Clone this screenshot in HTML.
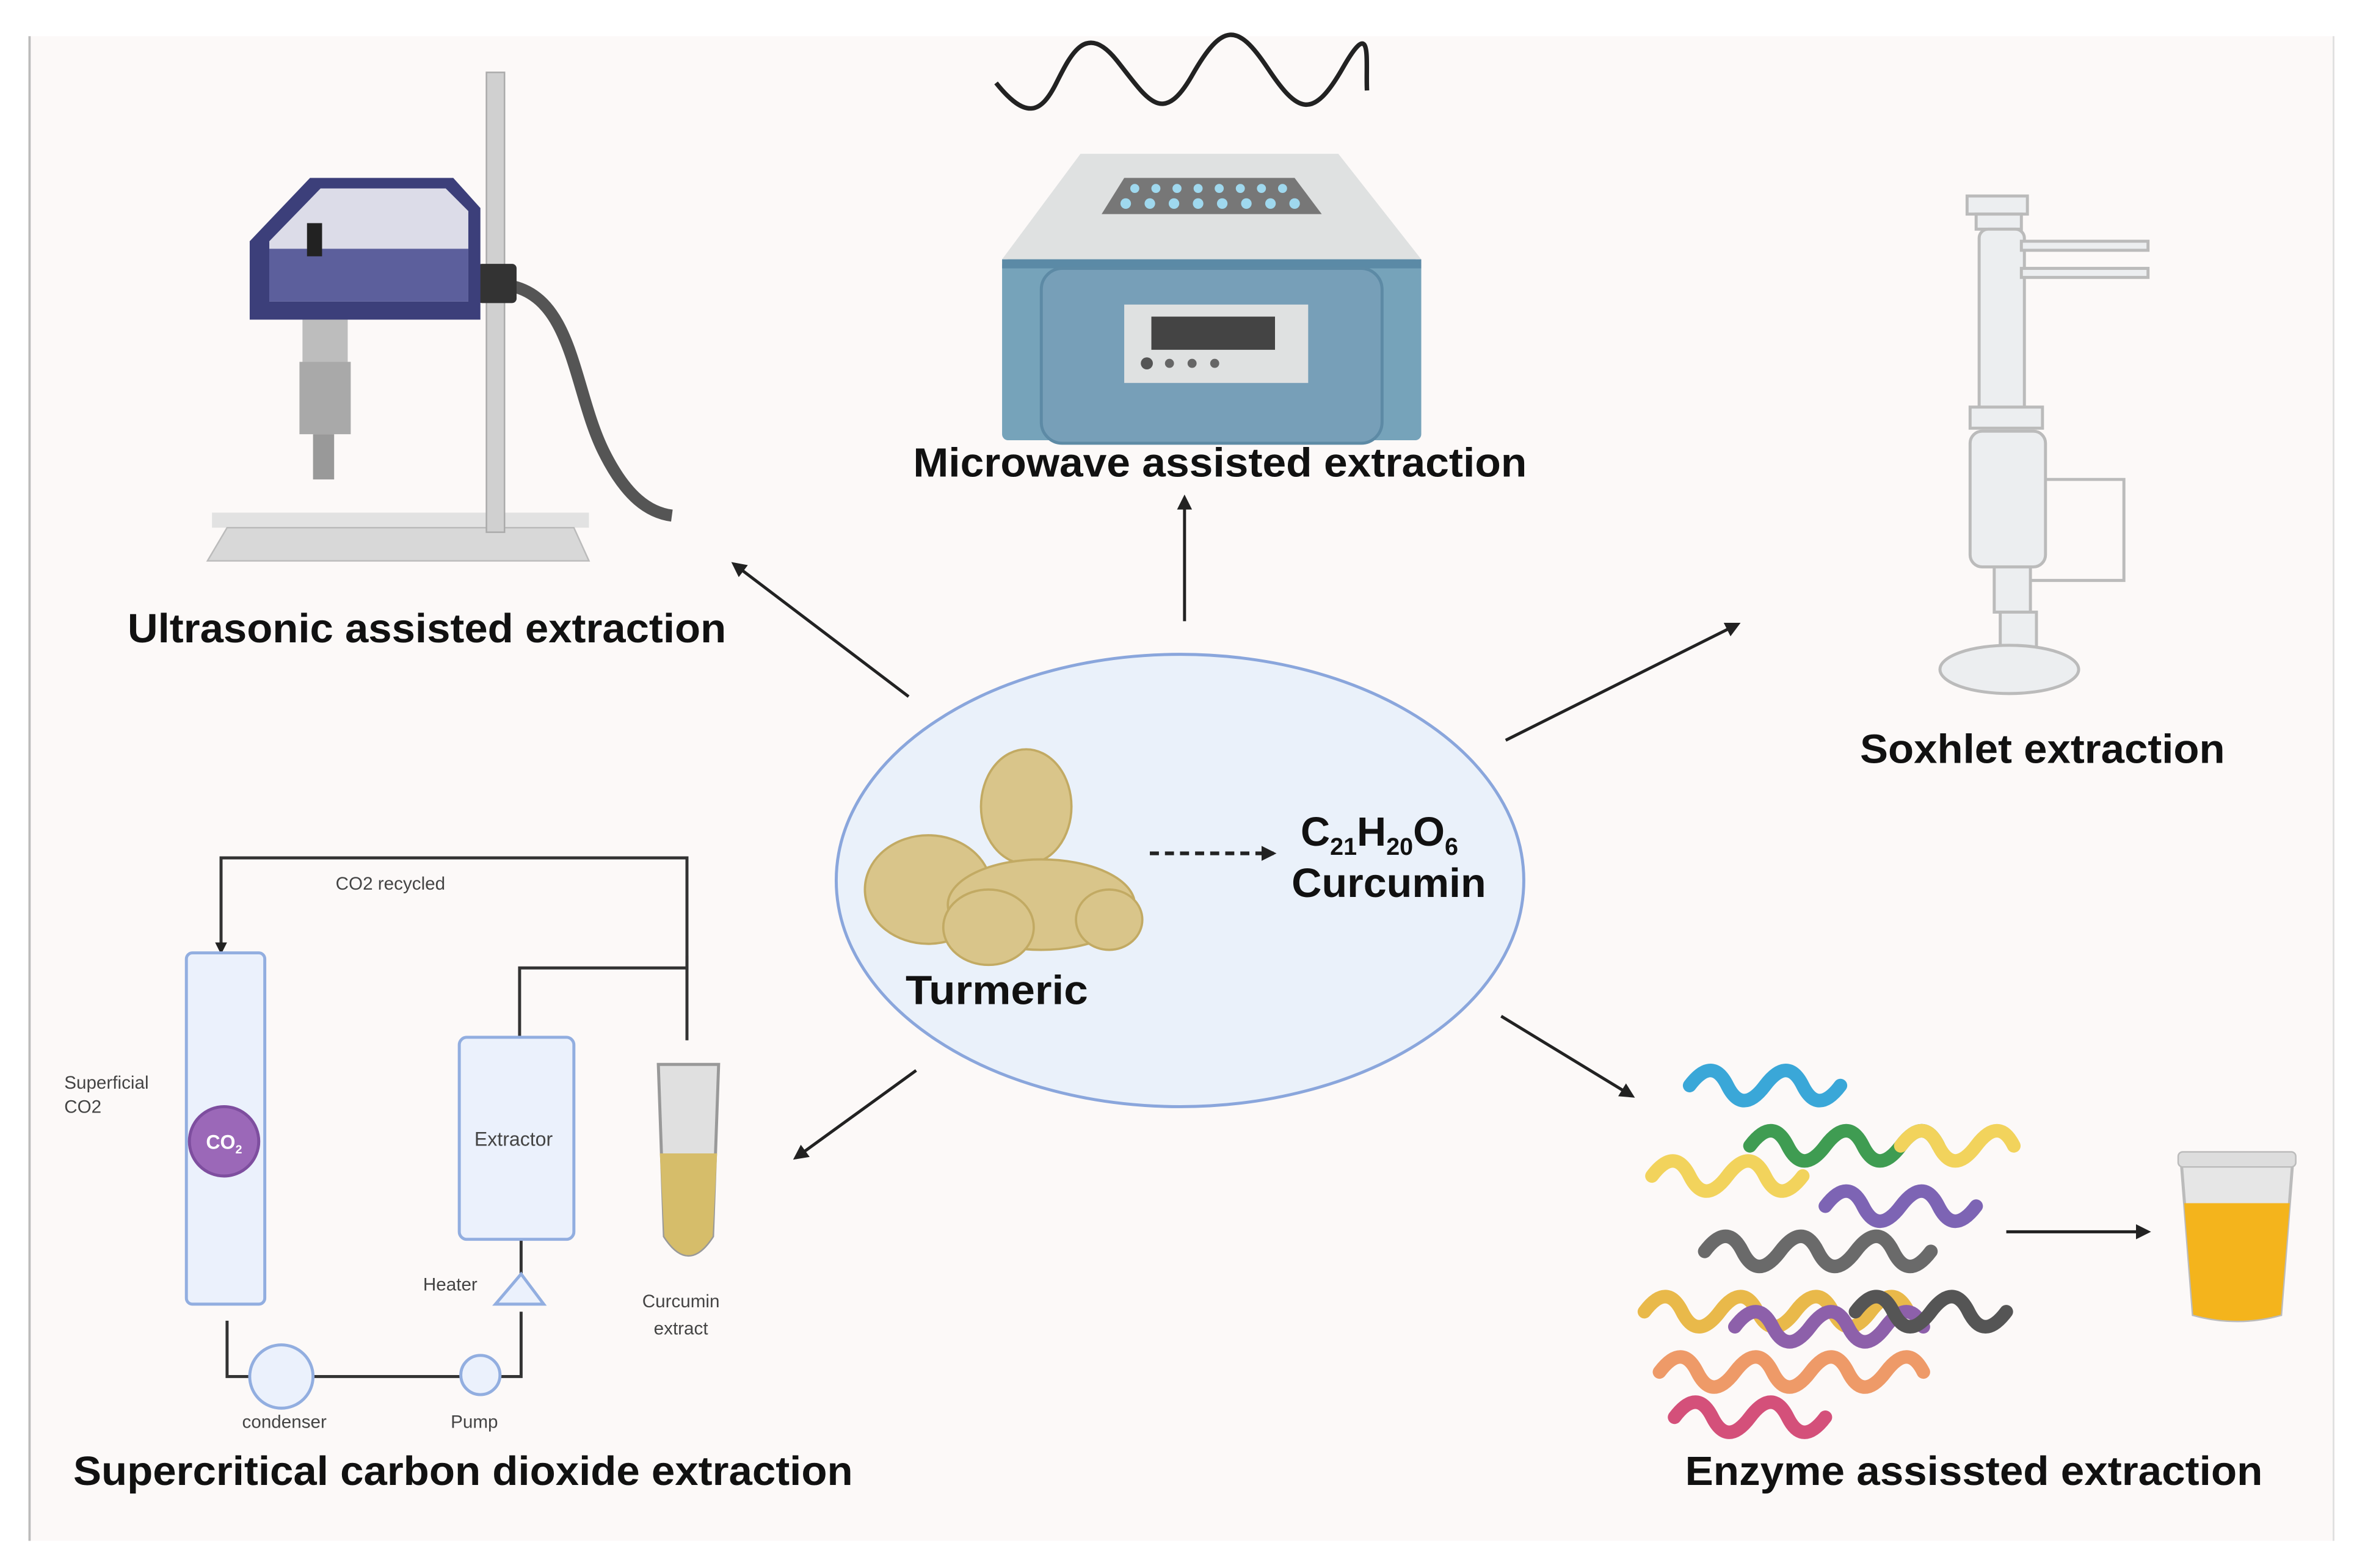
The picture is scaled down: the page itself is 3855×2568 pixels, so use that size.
<!DOCTYPE html>
<html><head><meta charset="utf-8"><style>
html,body{margin:0;padding:0;background:#fff;}
svg{display:block;}
text{font-family:"Liberation Sans",sans-serif;}
.t{font-weight:bold;font-size:27px;fill:#111;}
</style></head><body>
<svg width="3855" height="2568" viewBox="0 0 1560 1040" xmlns="http://www.w3.org/2000/svg">
<defs>
<marker id="ah" markerWidth="10" markerHeight="10" refX="8" refY="5" orient="auto" markerUnits="userSpaceOnUse"><path d="M0,0 L10,5 L0,10 z" fill="#222"/></marker>
<marker id="ah2" markerWidth="8" markerHeight="8" refX="7" refY="4" orient="auto" markerUnits="userSpaceOnUse"><path d="M0,0 L8,4 L0,8 z" fill="#222"/></marker>
</defs>
<rect x="18" y="24" width="1530" height="998" fill="#fcf9f8"/>
<line x1="19" y1="24" x2="19" y2="1022" stroke="#bbb" stroke-width="1.5"/>
<line x1="1547" y1="24" x2="1547" y2="1022" stroke="#ddd" stroke-width="1"/>

<path d="M660,55 C680,80 690,75 700,55 S720,15 740,40 S770,85 790,50 S820,15 840,45 S870,80 890,45 S905,40 906,60" fill="none" stroke="#222" stroke-width="3"/>
<polygon points="716,102 887,102 942,172 664,172" fill="#dfe1e1"/>
<polygon points="745,118 858,118 876,142 730,142" fill="#777"/>
<g fill="#9fd8ee">
<circle cx="752" cy="125" r="3"/><circle cx="766" cy="125" r="3"/><circle cx="780" cy="125" r="3"/><circle cx="794" cy="125" r="3"/><circle cx="808" cy="125" r="3"/><circle cx="822" cy="125" r="3"/><circle cx="836" cy="125" r="3"/><circle cx="850" cy="125" r="3"/>
<circle cx="746" cy="135" r="3.5"/><circle cx="762" cy="135" r="3.5"/><circle cx="778" cy="135" r="3.5"/><circle cx="794" cy="135" r="3.5"/><circle cx="810" cy="135" r="3.5"/><circle cx="826" cy="135" r="3.5"/><circle cx="842" cy="135" r="3.5"/><circle cx="858" cy="135" r="3.5"/>
</g>
<rect x="664" y="172" width="278" height="120" rx="4" fill="#76a3ba"/>
<rect x="664" y="172" width="278" height="6" fill="#5b8aa6"/>
<rect x="690" y="178" width="226" height="116" rx="14" fill="#779fb8" stroke="#5d8aa5" stroke-width="2"/>
<rect x="745" y="202" width="122" height="52" fill="#dfe1e1"/>
<rect x="763" y="210" width="82" height="22" fill="#444"/>
<circle cx="760" cy="241" r="4" fill="#555"/><circle cx="775" cy="241" r="3" fill="#666"/><circle cx="790" cy="241" r="3" fill="#666"/><circle cx="805" cy="241" r="3" fill="#666"/>
<text x="605" y="316" class="t" textLength="407" lengthAdjust="spacingAndGlyphs">Microwave assisted extraction</text>
<line x1="785" y1="412" x2="785" y2="330" stroke="#222" stroke-width="2" marker-end="url(#ah)"/>

<rect x="140" y="340" width="250" height="10" fill="#e2e2e2"/>
<polygon points="150,350 380,350 390,372 137,372" fill="#d8d8d8" stroke="#bbb"/>
<rect x="322" y="48" width="12" height="305" fill="#d0d0d0" stroke="#aaa"/>
<path d="M340,190 C380,200 380,260 400,300 C415,330 430,340 445,342" fill="none" stroke="#555" stroke-width="8"/>
<rect x="316" y="175" width="26" height="26" rx="3" fill="#333"/>
<path d="M205,118 L300,118 L318,138 L318,212 L165,212 L165,160 Z" fill="#3c3f7a"/>
<path d="M212,125 L295,125 L310,140 L310,200 L178,200 L178,160 Z" fill="#dcdce8"/>
<rect x="178" y="165" width="132" height="35" fill="#5c5f9c"/>
<rect x="203" y="148" width="10" height="22" fill="#222"/>
<rect x="200" y="212" width="30" height="50" fill="#bdbdbd"/>
<rect x="198" y="240" width="34" height="48" fill="#a9a9a9"/>
<rect x="207" y="288" width="14" height="30" fill="#999"/>
<text x="84" y="426" class="t" textLength="397" lengthAdjust="spacingAndGlyphs">Ultrasonic assisted extraction</text>
<line x1="602" y1="462" x2="486" y2="374" stroke="#222" stroke-width="2" marker-end="url(#ah)"/>

<g stroke="#bbb" stroke-width="2" fill="#eceef0">
<rect x="1304" y="130" width="40" height="12"/>
<rect x="1310" y="142" width="30" height="10"/>
<rect x="1312" y="152" width="30" height="125" rx="6"/>
<rect x="1340" y="160" width="84" height="6"/>
<rect x="1340" y="178" width="84" height="6"/>
<rect x="1306" y="270" width="48" height="14"/>
<rect x="1306" y="286" width="50" height="90" rx="8"/>
<path d="M1356,318 L1408,318 L1408,385 L1346,385" fill="none"/>
<rect x="1322" y="376" width="24" height="30"/>
<rect x="1326" y="406" width="24" height="24"/>
<ellipse cx="1332" cy="444" rx="46" ry="16"/>
</g>
<text x="1233" y="506" class="t" textLength="242" lengthAdjust="spacingAndGlyphs">Soxhlet extraction</text>
<line x1="998" y1="491" x2="1152" y2="414" stroke="#222" stroke-width="2" marker-end="url(#ah)"/>

<ellipse cx="782" cy="584" rx="228" ry="150" fill="#eaf1fa" stroke="#8aa6dc" stroke-width="2"/>
<g fill="#d9c58a" stroke="#c2aa63" stroke-width="1.5">
<ellipse cx="615" cy="590" rx="42" ry="36"/>
<ellipse cx="680" cy="535" rx="30" ry="38"/>
<ellipse cx="690" cy="600" rx="62" ry="30"/>
<ellipse cx="735" cy="610" rx="22" ry="20"/>
<ellipse cx="655" cy="615" rx="30" ry="25"/>
</g>
<text x="600" y="666" class="t" textLength="121" lengthAdjust="spacingAndGlyphs">Turmeric</text>
<line x1="762" y1="566" x2="844" y2="566" stroke="#222" stroke-width="2.5" stroke-dasharray="6,4" marker-end="url(#ah)"/>
<text x="862" y="561" class="t">C<tspan font-size="16" dy="6">21</tspan><tspan dy="-6">H</tspan><tspan font-size="16" dy="6">20</tspan><tspan dy="-6">O</tspan><tspan font-size="16" dy="6">6</tspan></text>
<text x="856" y="595" class="t" textLength="129" lengthAdjust="spacingAndGlyphs">Curcumin</text>

<line x1="607" y1="710" x2="527" y2="768" stroke="#222" stroke-width="2" marker-end="url(#ah)"/>
<line x1="995" y1="674" x2="1082" y2="727" stroke="#222" stroke-width="2" marker-end="url(#ah)"/>

<g stroke="#333" stroke-width="2" fill="none">
<polyline points="455,690 455,569 146,569 146,632" marker-end="url(#ah2)"/>
<polyline points="344,688 344,642 455,642"/>
<line x1="455" y1="634" x2="455" y2="650"/>
<polyline points="150,876 150,913 345,913 345,870"/>
<line x1="345" y1="822" x2="345" y2="845"/>
</g>
<rect x="123" y="632" width="52" height="233" rx="4" fill="#ebf1fc" stroke="#92aee0" stroke-width="2"/>
<circle cx="148" cy="757" r="23" fill="#9b68b8" stroke="#7e4e9f" stroke-width="2"/>
<text x="148" y="762" font-size="13" fill="#fff" text-anchor="middle" font-weight="bold">CO<tspan font-size="8" dy="3">2</tspan></text>
<rect x="304" y="688" width="76" height="134" rx="5" fill="#ebf1fc" stroke="#92aee0" stroke-width="2"/>
<text x="340" y="760" font-size="13" fill="#444" text-anchor="middle">Extractor</text>
<polygon points="345,845 360,865 328,865" fill="#ebf1fc" stroke="#92aee0" stroke-width="2"/>
<circle cx="186" cy="913" r="21" fill="#ebf1fc" stroke="#92aee0" stroke-width="2"/>
<circle cx="318" cy="912" r="13" fill="#ebf1fc" stroke="#92aee0" stroke-width="2"/>
<path d="M436,706 L476,706 L472,820 Q456,845 440,820 Z" fill="#e0e0e0" stroke="#999" stroke-width="2"/>
<path d="M437,765 L475,765 L472,820 Q456,845 440,820 Z" fill="#d6bd6a"/>
<g font-size="12" fill="#444">
<text x="222" y="590">CO2 recycled</text>
<text x="42" y="722">Superficial</text>
<text x="42" y="738">CO2</text>
<text x="280" y="856">Heater</text>
<text x="451" y="867" text-anchor="middle">Curcumin</text>
<text x="451" y="885" text-anchor="middle">extract</text>
<text x="188" y="947" text-anchor="middle">condenser</text>
<text x="314" y="947" text-anchor="middle">Pump</text>
</g>
<text x="48" y="985" class="t" textLength="517" lengthAdjust="spacingAndGlyphs">Supercritical carbon dioxide extraction</text>

<g fill="none" stroke-width="9" stroke-linecap="round">
<path d="M1095,780 q15,-20 25,0 t25,0 t25,0 t25,0" stroke="#f2d35c"/>
<path d="M1120,720 q15,-20 25,0 t25,0 t25,0 t25,0" stroke="#3aa7d8"/>
<path d="M1160,760 q15,-20 25,0 t25,0 t25,0 t25,0 t25,0" stroke="#3f9c52"/>
<path d="M1130,830 q15,-20 25,0 t25,0 t25,0 t25,0 t25,0 t25,0" stroke="#6a6a6a"/>
<path d="M1210,800 q15,-20 25,0 t25,0 t25,0 t25,0" stroke="#7d64b4"/>
<path d="M1090,870 q15,-20 25,0 t25,0 t25,0 t25,0 t25,0 t25,0 t25,0" stroke="#e9b94a"/>
<path d="M1100,910 q15,-20 25,0 t25,0 t25,0 t25,0 t25,0 t25,0 t25,0" stroke="#ee9a68"/>
<path d="M1150,880 q15,-20 25,0 t25,0 t25,0 t25,0 t25,0" stroke="#8d60aa"/>
<path d="M1230,870 q15,-20 25,0 t25,0 t25,0 t25,0" stroke="#555"/>
<path d="M1110,940 q15,-20 25,0 t25,0 t25,0 t25,0" stroke="#d4507a"/>
<path d="M1260,760 q15,-20 25,0 t25,0 t25,0" stroke="#f2d35c"/>
</g>
<line x1="1330" y1="817" x2="1424" y2="817" stroke="#222" stroke-width="2" marker-end="url(#ah)"/>
<path d="M1446,770 L1520,770 L1512,872 Q1483,880 1454,872 Z" fill="#e6e6e6" stroke="#bbb" stroke-width="2"/>
<path d="M1448,798 L1518,798 L1512,872 Q1483,880 1454,872 Z" fill="#f4b41c"/>
<rect x="1444" y="764" width="78" height="10" rx="3" fill="#ddd" stroke="#bbb"/>
<text x="1117" y="985" class="t" textLength="383" lengthAdjust="spacingAndGlyphs">Enzyme assissted extraction</text>
</svg>
</body></html>
